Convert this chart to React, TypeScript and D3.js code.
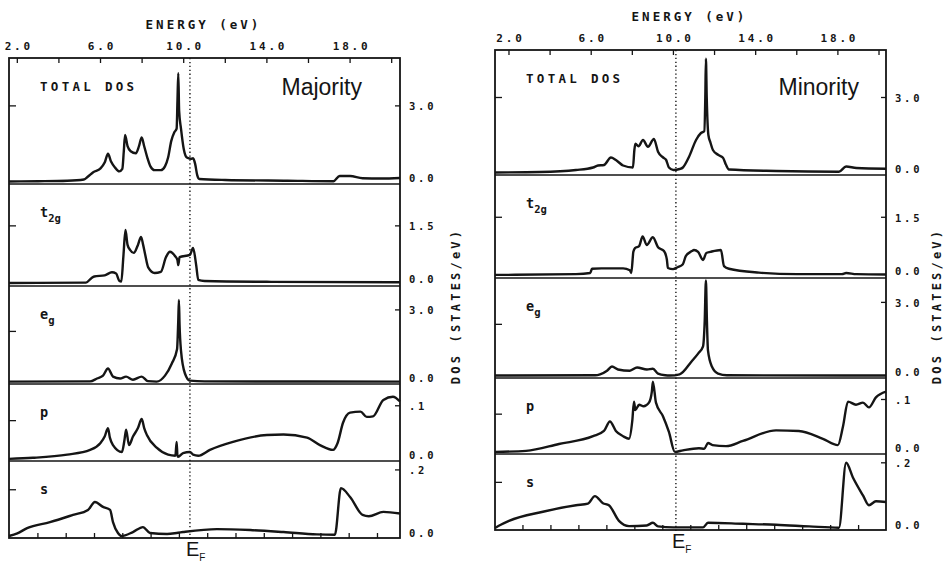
import React from "react";
import * as d3 from "d3";

type Pt = [number, number];

// ---------- axis labels ----------
const energyLabelValues = [2, 6, 10, 14, 18];
const energyLabelTexts = ["2.0", "6.0", "10.0", "14.0", "18.0"];
const energyTickStep = 2;
const rydbergStepEV = 1.3606;

const subplotNames = ["TOTAL DOS", "t2g", "eg", "p", "s"];
const subplotDomains: Pt[] = [[-0.1, 4.9], [-0.08, 2.6], [-0.1, 4.0], [-0.004, 0.141], [-0.006, 0.227]];
const rightTickValues: number[][] = [[0, 3], [0, 1.5], [0, 3], [0, 0.1], [0, 0.2]];
const rightTickTexts: string[][] = [["0.0", "3.0"], ["0.0", "1.5"], ["0.0", "3.0"], ["0.0", ".1"], ["0.0", ".2"]];
const leftTickValues = [3, 1.5, 2.1, 0.072, 0.14];

// ---------- Majority ----------
const majTotal: Pt[] = [[1.6,0],[3.0,0.01],[4.4,0.03],[5.2,0.08],[5.4,0.2],[5.65,0.37],[6.0,0.52],[6.2,0.75],[6.36,1.1],[6.5,0.8],[6.7,0.55],[6.9,0.4],[7.05,0.5],[7.12,1.2],[7.18,1.85],[7.3,1.4],[7.45,1.2],[7.7,1.12],[7.85,1.4],[7.98,1.75],[8.1,1.4],[8.25,0.95],[8.4,0.6],[8.6,0.45],[8.9,0.45],[9.1,0.6],[9.25,0.95],[9.4,1.6],[9.55,1.95],[9.66,2.1],[9.7,3.2],[9.74,4.3],[9.78,2.8],[9.87,2.1],[10.0,1.3],[10.15,0.95],[10.35,0.9],[10.45,0.92],[10.55,0.7],[10.65,0.25],[10.75,0.1],[12,0.06],[15,0.03],[17.2,0.01],[17.5,0.22],[18.0,0.22],[18.6,0.13],[19.5,0.12],[20.4,0.14]];
const majT2g: Pt[] = [[1.6,0],[5.3,0.01],[5.55,0.12],[5.7,0.17],[6.2,0.2],[6.55,0.28],[6.75,0.25],[6.9,0.06],[7.0,0.04],[7.1,0.7],[7.2,1.39],[7.3,1.0],[7.42,0.87],[7.6,0.79],[7.8,1.0],[7.95,1.21],[8.05,1.0],[8.15,0.74],[8.3,0.4],[8.6,0.26],[8.9,0.29],[9.15,0.68],[9.34,0.82],[9.58,0.71],[9.7,0.6],[9.74,0.47],[9.8,0.68],[10.3,0.74],[10.45,0.92],[10.6,0.47],[10.7,0.08],[11,0.05],[14,0.03],[20.4,0.02]];
const majEg: Pt[] = [[1.6,0],[5.5,0.01],[5.83,0.13],[6.12,0.25],[6.36,0.55],[6.6,0.21],[6.94,0.13],[7.23,0.21],[7.56,0.08],[7.98,0.21],[8.28,0.02],[8.7,0.0],[9.1,0.25],[9.43,0.76],[9.68,1.35],[9.74,2.6],[9.77,3.42],[9.8,2.4],[9.87,1.3],[10.06,0.34],[10.3,0.04],[11,0.01],[20.4,0.0]];
const majP: Pt[] = [[1.6,0],[2.75,0.002],[4.4,0.008],[5.5,0.017],[6.0,0.03],[6.2,0.042],[6.36,0.058],[6.45,0.04],[6.6,0.026],[7.03,0.013],[7.15,0.035],[7.23,0.055],[7.37,0.026],[7.56,0.042],[7.8,0.058],[7.98,0.075],[8.1,0.058],[8.23,0.045],[8.7,0.021],[9.25,0.008],[9.6,0.006],[9.66,0.032],[9.7,0.006],[9.73,0.004],[9.97,0.011],[10.3,0.013],[10.45,0.008],[10.7,0.006],[11.26,0.017],[12.37,0.032],[14.0,0.045],[14.8,0.046],[15.93,0.04],[16.55,0.026],[17.18,0.017],[17.4,0.03],[17.66,0.068],[18.0,0.087],[18.5,0.089],[18.8,0.079],[19.1,0.08],[19.6,0.111],[20.06,0.117],[20.4,0.108]];
const majS: Pt[] = [[1.6,0],[2.0,0.008],[2.47,0.024],[3.57,0.042],[4.68,0.064],[5.4,0.079],[5.73,0.103],[6.12,0.088],[6.46,0.079],[6.6,0.042],[6.84,0.009],[7.0,0.0],[7.56,0.012],[8.04,0.027],[8.38,0.009],[9.2,0.006],[9.73,0.01],[9.97,0.012],[11.6,0.021],[13.2,0.018],[14.8,0.012],[16.4,0.005],[17.27,0.004],[17.56,0.145],[18.0,0.118],[18.6,0.064],[18.9,0.06],[19.6,0.073],[20.4,0.068]];

// ---------- Minority ----------
const minTotal: Pt[] = [[1.32,0],[3.5,0.02],[5.26,0.1],[6.09,0.2],[6.33,0.28],[6.62,0.3],[6.96,0.6],[7.2,0.5],[7.55,0.28],[8.03,0.2],[8.1,0.9],[8.15,1.15],[8.3,1.05],[8.52,1.3],[8.76,1.03],[9.05,1.34],[9.25,0.83],[9.5,0.6],[9.64,0.51],[9.78,0.2],[10.0,0.1],[10.3,0.14],[10.46,0.2],[10.76,0.63],[11.1,1.3],[11.34,1.58],[11.5,1.65],[11.55,3.0],[11.58,4.55],[11.62,3.0],[11.7,1.5],[11.8,1.2],[11.92,0.9],[12.17,0.71],[12.41,0.59],[12.55,0.32],[12.7,0.12],[15.0,0.06],[18.05,0.03],[18.4,0.24],[18.9,0.18],[20.34,0.15]];
const minT2g: Pt[] = [[1.32,0],[5.26,0.02],[5.95,0.05],[6.04,0.16],[6.5,0.17],[7.55,0.17],[7.88,0.12],[7.95,0.05],[8.05,0.6],[8.13,0.7],[8.33,0.75],[8.5,1.0],[8.7,0.78],[9.0,0.98],[9.25,0.72],[9.54,0.62],[9.68,0.4],[9.73,0.18],[9.98,0.15],[10.2,0.2],[10.46,0.28],[10.6,0.49],[10.9,0.62],[11.0,0.65],[11.2,0.6],[11.44,0.39],[11.6,0.57],[11.8,0.6],[12.31,0.65],[12.46,0.23],[12.7,0.16],[14.16,0.06],[16,0.02],[18.2,0.02],[18.4,0.05],[18.9,0.02],[20.34,0.01]];
const minEg: Pt[] = [[1.32,0],[6.2,0.01],[6.43,0.05],[6.77,0.2],[7.01,0.37],[7.3,0.25],[7.88,0.2],[8.23,0.33],[8.71,0.25],[9.0,0.28],[9.25,0.08],[9.6,0.01],[9.83,0],[10.3,0.05],[10.9,0.6],[11.2,0.9],[11.44,1.2],[11.52,2.2],[11.58,3.9],[11.63,2.2],[11.68,1.03],[11.87,0.37],[12.17,0.08],[12.6,0.01],[20.34,0]];
const minP: Pt[] = [[1.32,0],[2.83,0.002],[4.43,0.015],[6.09,0.03],[6.62,0.04],[6.91,0.058],[7.2,0.04],[7.55,0.03],[7.84,0.025],[8.0,0.06],[8.08,0.096],[8.15,0.08],[8.33,0.09],[8.55,0.087],[8.81,0.094],[8.95,0.115],[9.0,0.134],[9.15,0.094],[9.49,0.068],[9.78,0.038],[10.07,0.0],[10.46,0.003],[11.24,0.007],[11.5,0.006],[11.68,0.017],[11.9,0.013],[12.56,0.011],[13.38,0.021],[14.99,0.041],[16.1,0.04],[17.27,0.025],[18.0,0.013],[18.25,0.049],[18.49,0.096],[18.88,0.09],[19.22,0.094],[19.51,0.085],[19.85,0.104],[20.34,0.115]];
const minS: Pt[] = [[1.32,0],[1.6,0.01],[2.0,0.022],[3.65,0.05],[5.26,0.07],[5.84,0.075],[6.18,0.098],[6.57,0.076],[6.86,0.07],[7.35,0.022],[7.84,0.006],[8.7,0.008],[9.0,0.016],[9.25,0.005],[10.0,0.002],[11.44,0.002],[11.68,0.016],[13.38,0.013],[14.99,0.01],[16.6,0.005],[18.05,0.001],[18.4,0.2],[18.73,0.155],[19.22,0.1],[19.51,0.07],[19.85,0.082],[20.34,0.08]];

const panelTitles = ["Majority", "Minority"];
const fermiEnergies = [10.3, 10.12];

// ---------- layout (positions, not data) ----------
const layouts = [
  { x0: 9, x1: 400, ys: [58, 184, 286, 384, 461, 538], dom: [1.6, 20.4] as Pt, rydStart: 2.99, titleDx: 38, dosDx: 56 },
  { x0: 495, x1: 886, ys: [50, 175, 278, 378, 454, 530], dom: [1.32, 20.34] as Pt, rydStart: 2.68, titleDx: 27, dosDx: 51 },
];
const panelSeries = [
  [majTotal, majT2g, majEg, majP, majS],
  [minTotal, minT2g, minEg, minP, minS],
];

const mono = "'DejaVu Sans Mono', monospace";
const sans = "'Liberation Sans', Arial, sans-serif";
const ink = "#151515";

function SubLabel({ name, x, y }: { name: string; x: number; y: number }) {
  if (name === "t2g")
    return (
      <text x={x} y={y} fontFamily={mono} fontSize={13.5} fontWeight="bold" fill={ink}>
        t<tspan dy={5} fontSize={10.5}>2g</tspan>
      </text>
    );
  if (name === "eg")
    return (
      <text x={x} y={y} fontFamily={mono} fontSize={13.5} fontWeight="bold" fill={ink}>
        e<tspan dy={5} fontSize={10.5}>g</tspan>
      </text>
    );
  return (
    <text x={x} y={y} fontFamily={mono} fontSize={name.length > 2 ? 12.5 : 13.5} fontWeight="bold" letterSpacing={name.length > 2 ? 3.3 : 0} fill={ink}>
      {name}
    </text>
  );
}

export default function App() {
  return (
    <svg width={946} height={562} style={{ position: "absolute", left: 0, top: 0, background: "#fff" }}>
      {layouts.map((L, pi) => {
        const x = d3.scaleLinear().domain(L.dom).range([L.x0, L.x1]);
        const ys = subplotDomains.map((dom, i) => d3.scaleLinear().domain(dom).range([L.ys[i + 1], L.ys[i]]));
        const top = L.ys[0];
        const bottom = L.ys[5];
        const topTicks = d3.range(2, L.dom[1] + 0.001, energyTickStep);
        const botTicks = d3.range(L.rydStart, L.dom[1] - 0.2, rydbergStepEV);
        const eF = x(fermiEnergies[pi]);
        return (
          <g key={pi}>
            {/* energy title */}
            <text x={(L.x0 + L.x1) / 2 - 1} y={top - 29} textAnchor="middle" fontFamily={mono} fontSize={12.5} fontWeight="bold" letterSpacing={3.0} fill={ink}>
              ENERGY (eV)
            </text>
            {energyLabelValues.map((v, i) => (
              <text key={i} x={x(v) + 1.5} y={top - 8} textAnchor="middle" fontFamily={mono} fontSize={11} fontWeight="bold" letterSpacing={2.8} fill={ink}>
                {energyLabelTexts[i]}
              </text>
            ))}
            {/* curves */}
            {panelSeries[pi].map((s, i) => (
              <path
                key={i}
                d={d3.line<Pt>().curve(d3.curveMonotoneX).x((d) => x(d[0])).y((d) => ys[i](d[1]))(s) || ""}
                fill="none"
                stroke={ink}
                strokeWidth={2.4}
                strokeLinejoin="round"
              />
            ))}
            {/* frame */}
            <rect x={L.x0} y={top} width={L.x1 - L.x0} height={bottom - top} fill="none" stroke={ink} strokeWidth={1.8} />
            {L.ys.slice(1, 5).map((yy, i) => (
              <line key={i} x1={L.x0} x2={L.x1} y1={yy} y2={yy} stroke={ink} strokeWidth={1.6} />
            ))}
            {topTicks.map((v, i) => (
              <line key={i} x1={x(v)} x2={x(v)} y1={top} y2={top + 5} stroke={ink} strokeWidth={1.3} />
            ))}
            {botTicks.map((v, i) => (
              <line key={i} x1={x(v)} x2={x(v)} y1={bottom} y2={bottom - 5} stroke={ink} strokeWidth={1.3} />
            ))}
            {/* y ticks */}
            {subplotDomains.map((_, i) => (
              <g key={i}>
                <line x1={L.x0} x2={L.x0 + 7} y1={ys[i](leftTickValues[i])} y2={ys[i](leftTickValues[i])} stroke={ink} strokeWidth={1.3} />
                {rightTickValues[i].map((v, j) => (
                  <g key={j}>
                    {v !== 0 && (
                      <line x1={L.x1 - 5} x2={L.x1} y1={ys[i](v)} y2={ys[i](v)} stroke={ink} strokeWidth={1.3} />
                    )}
                    <text x={L.x1 + 9} y={ys[i](v) + (v === 0 ? 0.5 : 4.5)} fontFamily={mono} fontSize={10.5} fontWeight="bold" letterSpacing={2.8} fill={ink}>
                      {rightTickTexts[i][j]}
                    </text>
                  </g>
                ))}
                <SubLabel name={subplotNames[i]} x={L.x0 + 31} y={L.ys[i] + 33} />
              </g>
            ))}
            {/* Fermi level */}
            <line x1={eF} x2={eF} y1={top} y2={bottom + 2} stroke={ink} strokeWidth={1.4} strokeDasharray="1.3 2.6" />
            <text x={eF - 4} y={bottom + 18} fontFamily={sans} fontSize={20} fill={ink}>
              E<tspan dy={5} fontSize={10}>F</tspan>
            </text>
            {/* panel title */}
            <text x={L.x1 - L.titleDx} y={95} textAnchor="end" fontFamily={sans} fontSize={23} fill={ink}>
              {panelTitles[pi]}
            </text>
            {/* DOS axis title */}
            <text
              transform={`translate(${L.x1 + L.dosDx},306) rotate(-90)`}
              textAnchor="middle"
              dominantBaseline="central"
              fontFamily={mono}
              fontSize={12}
              fontWeight="bold"
              letterSpacing={3.2}
              fill={ink}
            >
              DOS (STATES/eV)
            </text>
          </g>
        );
      })}
    </svg>
  );
}
